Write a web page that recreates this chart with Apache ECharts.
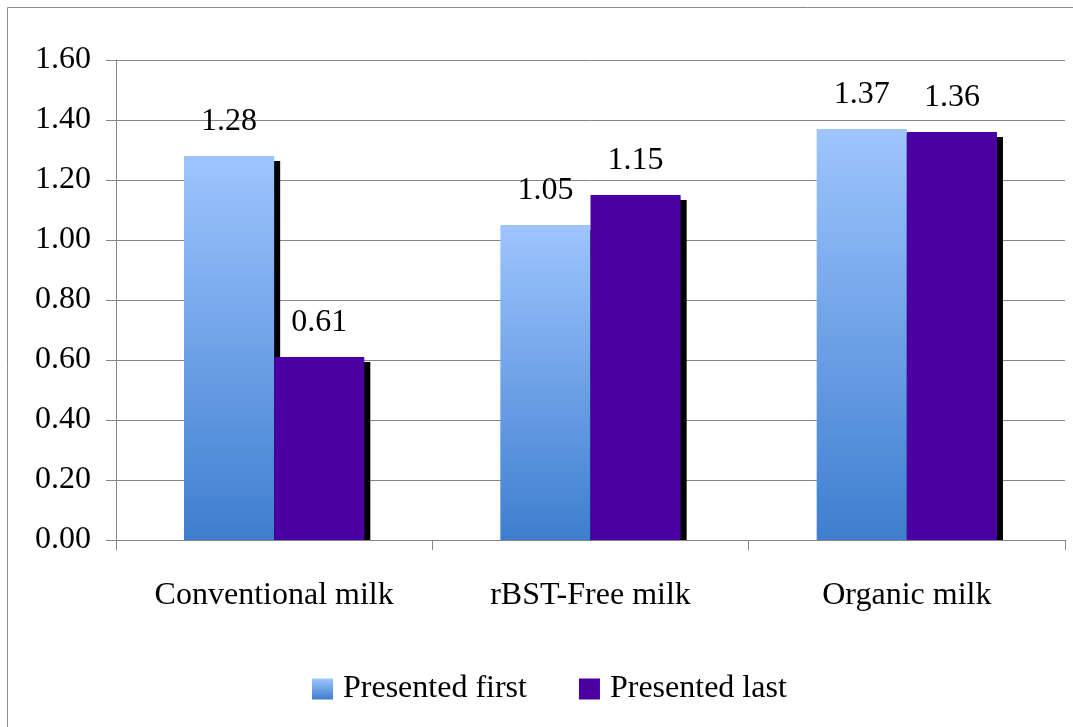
<!DOCTYPE html>
<html>
<head>
<meta charset="utf-8">
<script src="https://cdn.jsdelivr.net/npm/echarts@6/dist/echarts.min.js"></script>
<style>
  html, body { margin: 0; padding: 0; background: #fff; }
  #chart { width: 1073px; height: 727px; }
</style>
</head>
<body>
<div id="chart"></div>
<script>
const categories = ['Conventional milk', 'rBST-Free milk', 'Organic milk'];
const presentedFirst = [1.28, 1.05, 1.37];
const presentedLast = [0.61, 1.15, 1.36];
const seriesNames = ['Presented first', 'Presented last'];
const yTicks = { min: 0, max: 1.6, interval: 0.2 };

const FONT = "'Liberation Serif', 'Times New Roman', serif";
const chart = echarts.init(document.getElementById('chart'), null, { renderer: 'canvas' });

const blueGradient = new echarts.graphic.LinearGradient(0, 0, 0, 1, [
  { offset: 0, color: '#9ec5fe' },
  { offset: 1, color: '#3e7ecf' }
]);
const shadow = { shadowColor: '#000', shadowBlur: 0, shadowOffsetX: 6, shadowOffsetY: 5 };
const labelCfg = {
  show: true, position: 'top', distance: 18,
  color: '#000', fontFamily: FONT, fontSize: 32,
  formatter: p => p.value.toFixed(2)
};

chart.setOption({
  backgroundColor: '#fff',
  animation: false,
  grid: { left: 116, right: 8, top: 60, bottom: 187 },
  legend: {
    left: 307, top: 668,
    icon: 'rect', itemWidth: 21, itemHeight: 21, itemGap: 52,
    textStyle: { fontFamily: FONT, fontSize: 32, color: '#000', padding: [0, 0, 0, 5] },
    itemStyle: { shadowColor: 'rgba(0,0,0,0)', shadowBlur: 0, shadowOffsetX: 0, shadowOffsetY: 0 },
    data: seriesNames
  },
  xAxis: {
    type: 'category',
    data: categories,
    z: 10,
    axisLine: { lineStyle: { color: '#868686', width: 1 } },
    axisTick: { show: true, length: 10, lineStyle: { color: '#868686' } },
    axisLabel: { color: '#000', fontFamily: FONT, fontSize: 32, margin: 40 }
  },
  yAxis: {
    type: 'value',
    min: yTicks.min, max: yTicks.max, interval: yTicks.interval,
    axisLine: { show: true, lineStyle: { color: '#868686', width: 1 } },
    axisTick: { show: true, length: 10, lineStyle: { color: '#868686' } },
    splitLine: { lineStyle: { color: '#868686', width: 1 } },
    axisLabel: { color: '#000', fontFamily: FONT, fontSize: 32, margin: 25,
      formatter: v => v.toFixed(2) }
  },
  series: [
    {
      name: seriesNames[0], type: 'bar', data: presentedFirst,
      barGap: '0%', barCategoryGap: '43%',
      itemStyle: Object.assign({ color: blueGradient }, shadow),
      label: labelCfg
    },
    {
      name: seriesNames[1], type: 'bar', data: presentedLast,
      barGap: '0%', barCategoryGap: '43%',
      itemStyle: Object.assign({ color: '#4a00a2' }, shadow),
      label: labelCfg
    }
  ]
});

// Outer frame and a white mask hiding the bar shadows below the value axis baseline
const rect = chart.getModel().getComponent('grid', 0).coordinateSystem.getRect();
chart.setOption({
  graphic: [
    {
      type: 'rect', z: -10, silent: true,
      shape: { x: 7.5, y: 7.5, width: 1200, height: 900 },
      style: { fill: 'none', stroke: '#8f8f8f', lineWidth: 1 }
    },
    {
      type: 'rect', z: 5, silent: true,
      shape: { x: rect.x + 1, y: rect.y + rect.height + 1, width: rect.width - 1, height: 8 },
      style: { fill: '#fff' }
    }
  ]
});
</script>
</body>
</html>
